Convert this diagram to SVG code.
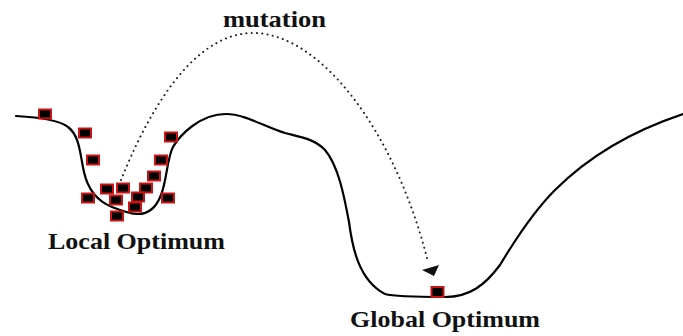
<svg xmlns="http://www.w3.org/2000/svg" width="683" height="336" viewBox="0 0 683 336">
<style>
.lbl{font-family:"Liberation Serif","Times New Roman",serif;font-weight:bold;font-size:24px;fill:#111}
.curve{fill:none;stroke:#000;stroke-width:2.2;stroke-linecap:round;stroke-linejoin:round}
.mut{fill:none;stroke:#222;stroke-width:2;stroke-dasharray:0.1 5.2;stroke-linecap:round}
.ind{fill:#000;stroke:#c81414;stroke-width:2}
</style>
<defs>
<rect id="sq" x="-6" y="-4.5" width="12" height="9"/>
</defs>
<rect width="683" height="336" fill="#fff"/>
<g id="landscape">
<path class="curve" d="M16,116 C35,117 58,119 68,127 C80,136 80,155 84,172 C88,190 97,201 112,207 C122,211 130,214 138,214 C148,214 156,208 161,195 C167,180 167,158 173,147 C180,135 200,114 226,114 C245,114 265,127 285,133 C300,137 315,139 325,150 C338,165 344,195 349,222 C352,245 358,280 385,294 C395,297 420,297 445,297 C470,297 485,285 500,265 C515,240 535,210 555,190 C590,155 635,130 683,114"/>
</g>
<g id="connectors">
<path class="mut" d="M121,180 C145,120 190,33 253,33 C320,33 395,130 428,262"/>
<polygon points="422,270 439,265 434,276" fill="#111"/>
</g>
<g id="local-population">
<use href="#sq" class="ind" x="45" y="114"/>
<use href="#sq" class="ind" x="85" y="133"/>
<use href="#sq" class="ind" x="93" y="160"/>
<use href="#sq" class="ind" x="88" y="198"/>
<use href="#sq" class="ind" x="107" y="189"/>
<use href="#sq" class="ind" x="123" y="188"/>
<use href="#sq" class="ind" x="146" y="188"/>
<use href="#sq" class="ind" x="116" y="200"/>
<use href="#sq" class="ind" x="138" y="197"/>
<use href="#sq" class="ind" x="135" y="207"/>
<use href="#sq" class="ind" x="117" y="216"/>
<use href="#sq" class="ind" x="154" y="176"/>
<use href="#sq" class="ind" x="161" y="160"/>
<use href="#sq" class="ind" x="171" y="137"/>
<use href="#sq" class="ind" x="168" y="198"/>
</g>
<g id="global-individual">
<rect class="ind" x="431.5" y="287" width="12" height="10"/>
</g>
<g id="label-mutation">
<text class="lbl" x="223" y="27" textLength="103" lengthAdjust="spacingAndGlyphs">mutation</text>
</g>
<g id="label-local">
<text class="lbl" x="48" y="249" textLength="177" lengthAdjust="spacingAndGlyphs">Local Optimum</text>
</g>
<g id="label-global">
<text class="lbl" x="350" y="327" textLength="190" lengthAdjust="spacingAndGlyphs">Global Optimum</text>
</g>
</svg>
